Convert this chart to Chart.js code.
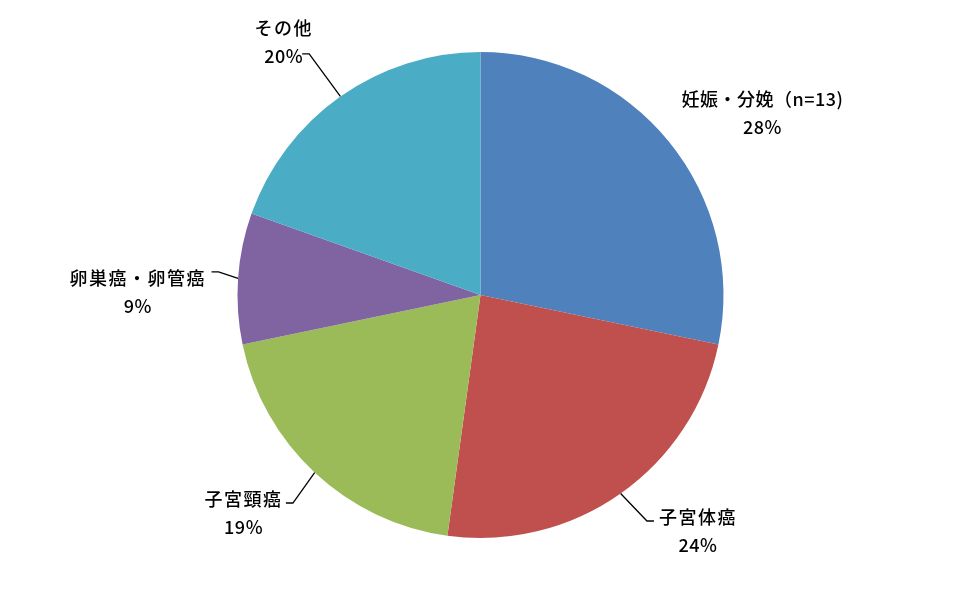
<!DOCTYPE html>
<html>
<head>
<meta charset="utf-8">
<script src="https://cdn.jsdelivr.net/npm/chart.js@4"></script>
<style>
  body { margin: 0; background: #fff; }
  #wrap { width: 961px; height: 590px; position: relative; }
</style>
</head>
<body>
<div id="wrap"><canvas id="pieChart"></canvas></div>
<script>
const categories = ['妊娠・分娩（n=13)', '子宮体癌', '子宮頸癌', '卵巣癌・卵管癌', 'その他'];
const counts = [13, 11, 9, 4, 9];
const percentLabels = ['28%', '24%', '19%', '9%', '20%'];
const colors = ['#4F81BD', '#C0504D', '#9BBB59', '#8064A2', '#4BACC6'];

// label centre and leader elbow, in units of the pie radius from its centre
// [labelX, labelY, elbowX, elbowY, tailDir]  (tailDir 0 = no leader)
const labelLayout = [
    [1.160, -0.805, 0, 0, 0],
    [0.895, 0.915, 0.685, 0.930, 1],
    [-0.975, 0.840, -0.772, 0.856, -1],
    [-1.410, -0.070, -1.078, -0.095, -1],
    [-0.810, -1.100, -0.705, -0.992, -1]
];

const labelPlugin = {
    id: 'sliceLabels',
    afterDatasetsDraw(chart) {
        const ctx = chart.ctx;
        const arcs = chart.getDatasetMeta(0).data;
        ctx.save();
        ctx.fillStyle = '#000';
        ctx.strokeStyle = '#000';
        ctx.lineWidth = 1.3;
        ctx.textAlign = 'center';
        ctx.textBaseline = 'middle';
        arcs.forEach((arc, i) => {
            const r = arc.outerRadius;
            const cx = arc.x, cy = arc.y;
            const [lx, ly, ex, ey, dir] = labelLayout[i];
            if (dir !== 0) {
                const mid = (arc.startAngle + arc.endAngle) / 2;
                const sx = cx + Math.cos(mid) * r;
                const sy = cy + Math.sin(mid) * r;
                const bx = cx + ex * r, by = cy + ey * r;
                ctx.beginPath();
                ctx.moveTo(sx, sy);
                ctx.lineTo(bx, by);
                ctx.lineTo(bx + dir * 7, by);
                ctx.stroke();
            }
            const tx = cx + lx * r, ty = cy + ly * r;
            ctx.font = '500 18px "Noto Sans CJK JP"';
            ctx.letterSpacing = i === 0 ? '0.5px' : '1.5px';
            ctx.fillText(categories[i], tx, ty);
            ctx.font = '500 18px "Noto Sans CJK JP"';
            ctx.letterSpacing = '0.5px';
            ctx.fillText(percentLabels[i], tx, ty + 28);
        });
        ctx.restore();
    }
};

new Chart(document.getElementById('pieChart'), {
    type: 'pie',
    data: {
        labels: categories,
        datasets: [{
            data: counts,
            backgroundColor: colors,
            borderWidth: 0
        }]
    },
    options: {
        responsive: true,
        maintainAspectRatio: false,
        animation: false,
        layout: { padding: { left: 237, right: 237, top: 52, bottom: 52 } },
        plugins: {
            legend: { display: false },
            tooltip: { enabled: false }
        }
    },
    plugins: [labelPlugin]
});
</script>
</body>
</html>
